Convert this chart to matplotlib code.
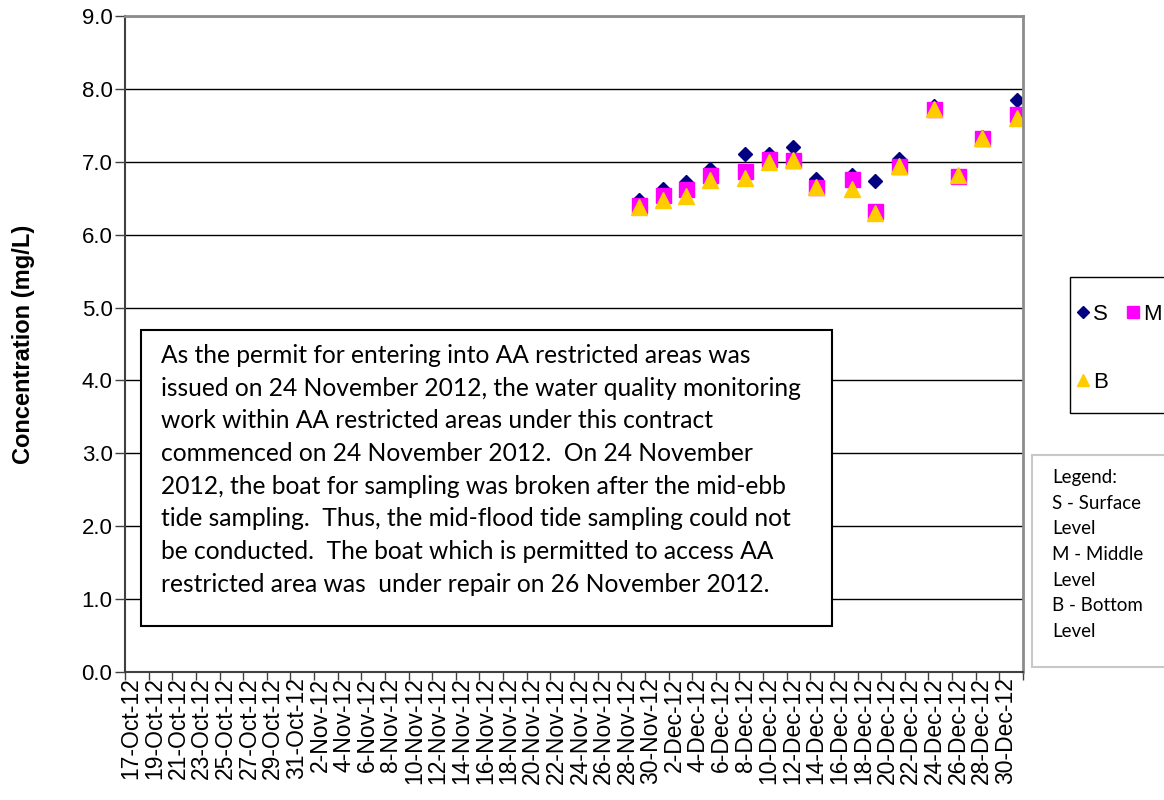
import numpy as np
import pandas as pd
import matplotlib
matplotlib.use("Agg")
import matplotlib.pyplot as plt
import matplotlib.dates as mdates
from matplotlib.patches import Rectangle
from matplotlib.ticker import FuncFormatter, MultipleLocator

# Sampling dates and dissolved oxygen readings (mg/L)
dates = ["2012-11-29", "2012-12-01", "2012-12-03", "2012-12-05", "2012-12-08",
         "2012-12-10", "2012-12-12", "2012-12-14", "2012-12-17", "2012-12-19",
         "2012-12-21", "2012-12-24", "2012-12-26", "2012-12-28", "2012-12-31"]
surface = [6.48, 6.62, 6.72, 6.90, 7.10, 7.10, 7.20, 6.76, 6.82, 6.74, 7.04, 7.76, 6.79, 7.34, 7.85]
middle = [6.41, 6.55, 6.63, 6.82, 6.87, 7.04, 7.03, 6.66, 6.76, 6.33, 6.94, 7.72, 6.81, 7.32, 7.66]
bottom = [6.38, 6.48, 6.53, 6.75, 6.78, 7.00, 7.03, 6.66, 6.62, 6.30, 6.94, 7.72, 6.82, 7.33, 7.60]

axis_start = "2012-10-17"
axis_end = "2013-01-01"

note = ("As the permit for entering into AA restricted areas was\n"
        "issued on 24 November 2012, the water quality monitoring\n"
        "work within AA restricted areas under this contract\n"
        "commenced on 24 November 2012.  On 24 November\n"
        "2012, the boat for sampling was broken after the mid-ebb\n"
        "tide sampling.  Thus, the mid-flood tide sampling could not\n"
        "be conducted.  The boat which is permitted to access AA\n"
        "restricted area was  under repair on 26 November 2012.")
legend_note = "Legend:\nS - Surface\nLevel\nM - Middle\nLevel\nB - Bottom\nLevel"

W, H = 1164, 800
fig = plt.figure(figsize=(W / 100, H / 100), dpi=100)
ax = fig.add_axes([125 / W, 1 - 672 / H, (1023 - 125) / W, (672 - 16) / H])

# points sit in the middle of each day slot (Excel date axis)
x = mdates.date2num(pd.to_datetime(dates)) + 0.5
hs, = ax.plot(x, surface, ls="none", marker="D", ms=7.6, color="#000080", mec="#000080", label="S")
hm, = ax.plot(x, middle, ls="none", marker="s", ms=10.8, color="#FF00FF", mec="#FF00FF", label="M")
hb, = ax.plot(x, bottom, ls="none", marker="^", ms=11, color="#FFCC00", mec="#FFCC00", label="B")

x0 = mdates.date2num(pd.Timestamp(axis_start))
x1 = mdates.date2num(pd.Timestamp(axis_end))
ax.set_xlim(x0, x1)
ax.set_ylim(0, 9)

# tick marks every 2 days, labels in the middle of the day slot
ax.xaxis.set_major_locator(MultipleLocator(2, offset=x0 % 2))
ax.xaxis.set_major_formatter(FuncFormatter(lambda v, p: ""))
ax.xaxis.set_minor_locator(MultipleLocator(2, offset=(x0 + 0.5) % 2))
def day_label(v, pos):
    d = mdates.num2date(v - 0.5)
    return f"{d.day}-{d:%b-%y}"
ax.xaxis.set_minor_formatter(FuncFormatter(day_label))
ax.tick_params(axis="x", which="major", length=6, width=1, color="#404040", direction="out")
ax.tick_params(axis="x", which="minor", length=0, labelsize=16.5, rotation=90, pad=4)

ax.yaxis.set_major_locator(MultipleLocator(1))
ax.yaxis.set_major_formatter(FuncFormatter(lambda v, p: f"{v:.1f}"))
ax.tick_params(axis="y", length=7, width=1, color="#404040", labelsize=16, pad=2)
ax.grid(axis="y", color="black", lw=1)
ax.set_axisbelow(True)

for s in ["left", "bottom"]:
    ax.spines[s].set_color("#404040")
    ax.spines[s].set_linewidth(1.5)
for s in ["top", "right"]:
    ax.spines[s].set_color("#8c8c8c")
    ax.spines[s].set_linewidth(2)

ax.set_ylabel("Concentration (mg/L)", fontsize=17, fontweight="bold")
ax.yaxis.set_label_coords(-0.1, 0.5)

for lab in ax.get_xticklabels(minor=True) + ax.get_yticklabels():
    lab.set_fontfamily("Liberation Sans")
ax.yaxis.label.set_fontfamily("Liberation Sans")

# note box inside the plot
fig.add_artist(Rectangle((141 / W, 1 - 626 / H), (832 - 141) / W, (626 - 330) / H,
                         transform=fig.transFigure, facecolor="white",
                         edgecolor="black", lw=1.5, zorder=5))
fig.text(161 / W, 1 - 344 / H, note, ha="left", va="top", fontsize=17.7,
         family="Lato", linespacing=1.51, zorder=6)

# series legend box, cut off at the right edge like the original
fig.add_artist(Rectangle((1070 / W, 1 - 413 / H), 150 / W, (413 - 277) / H,
                         transform=fig.transFigure, facecolor="white",
                         edgecolor="black", lw=1, zorder=2))
# (ncol=2 fills column-wise, so S and B go in the first column)
leg = fig.legend([hs, hb, hm], ["S", "B", "M"], loc="upper left",
                 bbox_to_anchor=(1076 / W, 1 - 304 / H),
                 bbox_transform=fig.transFigure, ncol=2, frameon=False,
                 markerscale=0.8, prop={"family": "Liberation Sans", "size": 16},
                 handlelength=0.6, handletextpad=0.15, columnspacing=0.85,
                 labelspacing=2.1, borderpad=0, borderaxespad=0)
leg.set_zorder(6)

# text legend box
fig.add_artist(Rectangle((1032 / W, 1 - 667 / H), 200 / W, (667 - 455) / H,
                         transform=fig.transFigure, facecolor="white",
                         edgecolor="#c8c8c8", lw=1.5))
fig.text(1052 / W, 1 - 469 / H, legend_note, ha="left", va="top", fontsize=13.5,
         family="Lato", linespacing=1.62)

fig.savefig("out.png", dpi=100)
